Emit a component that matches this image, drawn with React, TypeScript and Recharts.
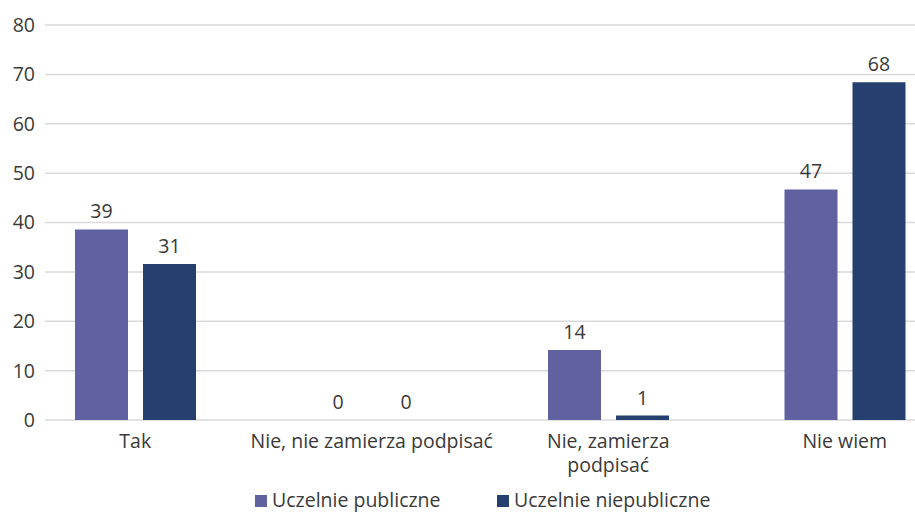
import React from "react";
import { BarChart, Bar, XAxis, YAxis, CartesianGrid, LabelList, Customized } from "recharts";

const categories = ["Tak", "Nie, nie zamierza podpisać", "Nie, zamierza podpisać", "Nie wiem"];
const tickLines = [["Tak"], ["Nie, nie zamierza podpisać"], ["Nie, zamierza", "podpisać"], ["Nie wiem"]];
const publiczne = [38.6, 0, 14.2, 46.7];
const niepubliczne = [31.6, 0, 0.9, 68.4];
const publiczneLabels = ["39", "0", "14", "47"];
const niepubliczneLabels = ["31", "0", "1", "68"];
const yTicks = [0, 10, 20, 30, 40, 50, 60, 70, 80];
const seriesNames = ["Uczelnie publiczne", "Uczelnie niepubliczne"];

const COLORS = ["#6061A0", "#253F6F"];
const FONT = "'Open Sans', 'Noto Sans', sans-serif";
const FS = 19.5;
const TEXT = "#3a3a3a";

const data = categories.map((c, i) => ({
  name: c,
  pub: publiczne[i],
  niepub: niepubliczne[i],
  pubLabel: publiczneLabels[i],
  niepubLabel: niepubliczneLabels[i],
}));

const minSize = (value: any) => (value === 0 ? 0.01 : 0);

const ValueLabel = (props: any) => {
  const { x, y, width, height, value } = props;
  const top = Math.min(Number(y), Number(y) + Number(height));
  return (
    <text
      x={Number(x) + Number(width) / 2}
      y={top - 11}
      textAnchor="middle"
      fill={TEXT}
      fontSize={FS}
      fontFamily={FONT}
    >
      {value}
    </text>
  );
};

const XTick = (props: any) => {
  const { x, y, payload } = props;
  const lines = tickLines[payload.index] || [payload.value];
  return (
    <g>
      {lines.map((l: string, i: number) => (
        <text
          key={i}
          x={x}
          y={y + 20 + i * 23.5}
          textAnchor="middle"
          fill={TEXT}
          fontSize={FS}
          fontFamily={FONT}
        >
          {l}
        </text>
      ))}
    </g>
  );
};

const LEGEND_X = [255, 497];

const SvgLegend = () => (
  <g>
    {seriesNames.map((n, i) => (
      <g key={n}>
        <rect x={LEGEND_X[i]} y={495} width={12} height={12} fill={COLORS[i]} />
        <text x={LEGEND_X[i] + 17} y={507} fill={TEXT} fontSize={FS} fontFamily={FONT}>
          {n}
        </text>
      </g>
    ))}
  </g>
);

export default function App() {
  return (
    <div style={{ position: "fixed", left: 0, top: 0, width: 915, height: 512, background: "#fff" }}>
      <BarChart
        width={915}
        height={512}
        data={data}
        margin={{ top: 25, right: 0, bottom: 62, left: 0 }}
        barCategoryGap={58}
        barGap={15}
      >
        <CartesianGrid vertical={false} stroke="#d9d9d9" strokeWidth={1.5} />
        <XAxis
          dataKey="name"
          axisLine={false}
          tickLine={false}
          interval={0}
          tick={<XTick />}
          padding={{ left: -28, right: -48 }}
        />
        <YAxis
          width={45}
          domain={[0, 80]}
          ticks={yTicks}
          axisLine={false}
          tickLine={false}
          tick={{ fill: TEXT, fontSize: FS, fontFamily: FONT }}
          tickMargin={4}
        />
        <Bar dataKey="pub" name={seriesNames[0]} fill={COLORS[0]} minPointSize={minSize} isAnimationActive={false}>
          <LabelList dataKey="pubLabel" content={<ValueLabel />} />
        </Bar>
        <Bar dataKey="niepub" name={seriesNames[1]} fill={COLORS[1]} minPointSize={minSize} isAnimationActive={false}>
          <LabelList dataKey="niepubLabel" content={<ValueLabel />} />
        </Bar>
        <Customized component={SvgLegend} />
      </BarChart>
    </div>
  );
}
